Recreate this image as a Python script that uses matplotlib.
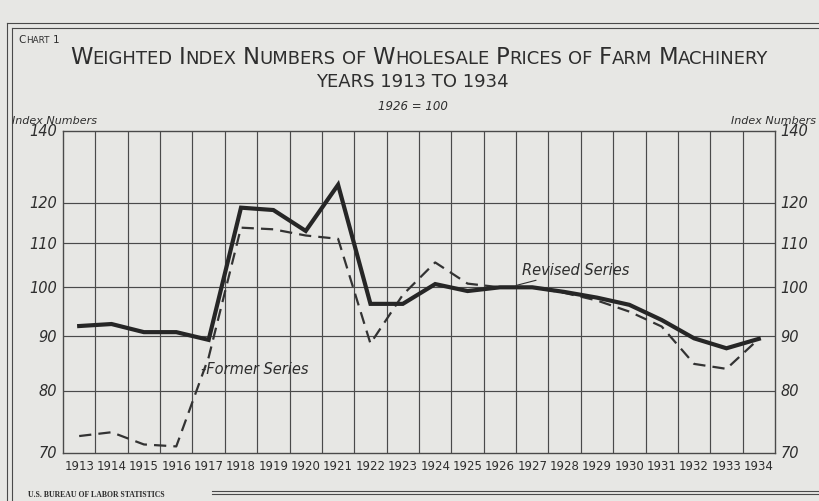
import numpy as np
import matplotlib
matplotlib.use("Agg")
import matplotlib.pyplot as plt
from matplotlib import font_manager
from matplotlib.lines import Line2D

# values (ratio scale, 1926 = 100)
years = list(range(1913, 1935))
revised = [92.0, 92.4, 90.8, 90.8, 89.3, 118.7, 118.1, 112.9, 124.7, 96.5, 96.5,
           100.7, 99.2, 100.0, 100.0, 99.0, 97.8, 96.3, 93.2, 89.6, 87.7, 89.5]
former = [72.6, 73.2, 71.3, 71.0, 86.0, 113.7, 113.3, 111.8, 111.0, 88.6, 98.4,
          105.5, 100.8, 100.0, 100.0, 98.8, 97.2, 94.9, 91.9, 84.8, 83.9, 89.5]
y_labels = [140, 120, 110, 100, 90, 80, 70]
y_grid = [80, 90, 100, 110, 120]

title_words = ["WEIGHTED", "INDEX", "NUMBERS", "OF", "WHOLESALE", "PRICES", "OF",
               "FARM", "MACHINERY"]
subtitle = "YEARS 1913 TO 1934"
base_note = "1926 = 100"

BG = "#e7e7e4"
INK = "#2e2e2e"
GRID = "#4a4a4a"

W, H = 820, 502


def has_font(name):
    try:
        font_manager.findfont(font_manager.FontProperties(family=name),
                              fallback_to_default=False)
        return True
    except ValueError:
        return False


NARROW = "Liberation Sans Narrow" if has_font("Liberation Sans Narrow") else "DejaVu Sans"
is_narrow = NARROW != "DejaVu Sans"


def fx(px):
    return px / W


def fy(py):
    return 1 - py / H


fig = plt.figure(figsize=(W / 100, H / 100), dpi=100, facecolor=BG)
renderer = fig.canvas.get_renderer()


def small_caps(words, xc, y_px, width_px, big, small, gap=0.35, **kw):
    # first letter large, rest small, then squeeze to the target width
    objs, xs, x = [], [], 0.0
    for i, w in enumerate(words):
        runs = [(w, small)] if w == "OF" else [(w[0], big), (w[1:], small)]
        for s, size in runs:
            t = fig.text(0, fy(y_px), s, fontsize=size, va="baseline", ha="left", **kw)
            ext = t.get_window_extent(renderer).width
            objs.append((t, size))
            xs.append(x)
            x += ext
        if i < len(words) - 1:
            x += gap * small * 100 / 72
    scale = min(1.0, width_px / x) if width_px else 1.0
    x0 = xc - x * scale / 2
    for (t, size), xi in zip(objs, xs):
        t.set_fontsize(size * scale)
        t.set_x(fx(x0 + xi * scale))


ax = fig.add_axes([fx(63), fy(454), fx(775) - fx(63), fy(132) - fy(454)])
ax.set_facecolor(BG)
ax.set_yscale("log")
ax.set_xlim(1912.5, 1934.5)
ax.set_ylim(70, 140)
ax.set_xticks([])
ax.set_yticks([])
ax.set_yticks([], minor=True)
for s in ax.spines.values():
    s.set_color(GRID)
    s.set_linewidth(1.0)

for b in years[:-1]:
    ax.axvline(b + 0.5, color=GRID, lw=0.85)
for v in y_grid:
    ax.axhline(v, color=GRID, lw=0.85)

ax.plot(years, former, color="#333333", lw=1.6, dashes=(5.5, 3.2))
ax.plot(years, revised, color="#262626", lw=3.0, solid_joinstyle="miter")

num_size = 12 if is_narrow else 10.5
ytr = ax.get_yaxis_transform()
for v in y_labels:
    ax.text(-0.008, v, str(v), transform=ytr, ha="right", va="center",
            style="italic", fontsize=num_size, family=NARROW, color=INK)
    ax.text(1.008, v, str(v), transform=ytr, ha="left", va="center",
            style="italic", fontsize=num_size, family=NARROW, color=INK)

xtr = ax.get_xaxis_transform()
for yr in years:
    ax.text(yr, -0.018, str(yr), transform=xtr, ha="center", va="top",
            fontsize=10 if is_narrow else 8.5, family=NARROW, color=INK)

ax.text(1916.75, 84, "-Former Series", ha="left", va="center", style="italic",
        fontsize=10.5, color=INK)
ax.annotate("Revised Series", xy=(1926.5, 100.4), xytext=(1926.68, 103.8),
            ha="left", va="center", style="italic", fontsize=10.5, color=INK,
            arrowprops=dict(arrowstyle="-", color=INK, lw=0.8,
                            shrinkA=0, shrinkB=0))

# titles
small_caps(title_words, 419, 64, 698, 18.7, 14.8, family=NARROW, color=INK)
fig.text(fx(412), fy(87), subtitle, ha="center", va="baseline",
         fontsize=13, family=NARROW, color=INK)
fig.text(fx(413), fy(110), base_note, ha="center", va="baseline",
         fontsize=8.5, style="italic", color=INK)
small_caps(["CHART", "1"], 39, 43, None, 7.5, 6.3, family=NARROW, color=INK)

fig.text(fx(12), fy(121), "Index Numbers", ha="left", va="center",
         fontsize=8, style="italic", color=INK)
fig.text(fx(816), fy(121), "Index Numbers", ha="right", va="center",
         fontsize=8, style="italic", color=INK)

fig.text(fx(28), fy(497), "U.S. BUREAU OF LABOR STATISTICS", ha="left",
         va="baseline", fontsize=5.6, family="Liberation Serif",
         weight="bold", color=INK)

# border of the sheet
frame = [
    ([7, 7], [24, 502]), ([7, 820], [24, 24]),
    ([12, 12], [29, 502]), ([12, 820], [29, 29]),
    ([212, 820], [492, 492]), ([212, 820], [495, 495]),
]
for xs_, ys_ in frame:
    fig.add_artist(Line2D([fx(v) for v in xs_], [fy(v) for v in ys_],
                          transform=fig.transFigure, color=GRID, lw=0.8))

fig.savefig("out.png", dpi=100, facecolor=BG)
